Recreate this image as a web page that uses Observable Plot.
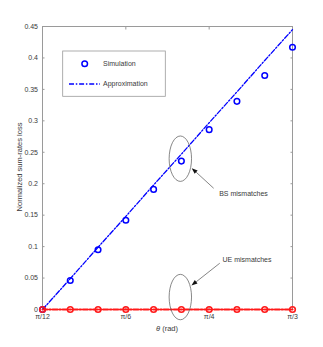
<!DOCTYPE html>
<html><head><meta charset="utf-8">
<script src="https://cdn.jsdelivr.net/npm/d3@7"></script>
<script src="https://cdn.jsdelivr.net/npm/@observablehq/plot@0.6"></script>
<style>
body{margin:0;background:#fff}
svg{font-family:"Liberation Sans",Arial,Helvetica,sans-serif}
</style>
</head><body><div id="chart"></div>
<script>
// theta in degrees (pi/12 .. pi/3)
const thetaDeg = [15, 20, 25, 30, 35, 40, 45, 50, 55, 60];
const simulation = [0, 0.046, 0.095, 0.142, 0.191, 0.236, 0.286, 0.331, 0.372, 0.417];
const approximation = [0, 0.049, 0.099, 0.148, 0.198, 0.247, 0.297, 0.346, 0.396, 0.445];
const ueMismatch = [0, 0, 0, 0, 0, 0, 0, 0, 0, 0];
const xTicks = [15, 30, 45, 60];
const xTickLabels = ["π/12", "π/6", "π/4", "π/3"];
const yTicks = [0, 0.05, 0.1, 0.15, 0.2, 0.25, 0.3, 0.35, 0.4, 0.45];
const yTickLabels = ["0", "0.05", "0.1", "0.15", "0.2", "0.25", "0.3", "0.35", "0.4", "0.45"];
const legendLabels = ["Simulation", "Approximation"];
const annotations = [
  {label: "BS mismatches", cx: 39.9, cy: 0.239, tx: 46.8, ty: 0.184, ax1: 45.9, ay1: 0.192, ax2: 41.95, ay2: 0.224},
  {label: "UE mismatches", cx: 39.9, cy: 0.019, tx: 47.4, ty: 0.0796, ax1: 47.0, ay1: 0.0728, ax2: 41.9, ay2: 0.0373}
];

const simData = thetaDeg.map((t, i) => ({t, v: simulation[i]}));
const approxData = thetaDeg.map((t, i) => ({t, v: approximation[i]}));
const ueData = thetaDeg.map((t, i) => ({t, v: ueMismatch[i]}));

const axisColor = "#9a9a9a";
const textColor = "#3a3a3a";
const blue = "#0000ff";
const red = "#ff1a1a";
const dash = "5,1.8,1.5,1.8";

const plot = Plot.plot({
  width: 323, height: 347,
  marginLeft: 42, marginRight: 31, marginTop: 26, marginBottom: 38,
  style: {fontSize: "7px", color: textColor, background: "#fff"},
  x: {domain: [15, 60]},
  y: {domain: [0, 0.45]},
  marks: [
    Plot.axisX({anchor: "bottom", ticks: xTicks, tickSize: -2.5, tickPadding: 7, stroke: axisColor, fill: textColor,
      tickFormat: d => xTickLabels[xTicks.indexOf(d)], label: null}),
    Plot.axisX({anchor: "top", ticks: xTicks, tickSize: -2.5, stroke: axisColor, tickFormat: () => "", label: null}),
    Plot.axisY({anchor: "left", ticks: yTicks, tickSize: -2.5, tickPadding: 7, stroke: axisColor, fill: textColor,
      tickFormat: d => yTickLabels[yTicks.findIndex(v => Math.abs(v - d) < 1e-9)], label: null}),
    Plot.axisY({anchor: "right", ticks: yTicks, tickSize: -2.5, stroke: axisColor, tickFormat: () => "", label: null}),
    Plot.frame({stroke: axisColor}),
    Plot.line(approxData, {x: "t", y: "v", stroke: blue, strokeWidth: 1.3, strokeDasharray: dash}),
    Plot.dot(simData, {x: "t", y: "v", r: 2.8, stroke: blue, strokeWidth: 1.5, fill: "none"}),
    Plot.line(ueData, {x: "t", y: "v", stroke: red, strokeWidth: 2, strokeDasharray: dash}),
    Plot.dot(ueData, {x: "t", y: "v", r: 2.8, stroke: red, strokeWidth: 1.6, fill: "none"}),
    Plot.text(annotations, {x: "tx", y: "ty", text: "label", textAnchor: "start", fill: textColor, fontSize: 7})
  ]
});

const svg = d3.select(plot);
const sx = plot.scale("x"), sy = plot.scale("y");
const g = svg.append("g");
annotations.forEach(a => {
  g.append("ellipse").attr("cx", sx.apply(a.cx)).attr("cy", sy.apply(a.cy))
    .attr("rx", 11.2).attr("ry", 22.7).attr("fill", "none").attr("stroke", "#555").attr("stroke-width", 0.7);
  const x1 = sx.apply(a.ax1), y1 = sy.apply(a.ay1), x2 = sx.apply(a.ax2), y2 = sy.apply(a.ay2);
  const ang = Math.atan2(y2 - y1, x2 - x1);
  const L = 6, W = 2.2;
  const bx = x2 - L * Math.cos(ang), by = y2 - L * Math.sin(ang);
  g.append("line").attr("x1", x1).attr("y1", y1).attr("x2", bx).attr("y2", by).attr("stroke", "#333").attr("stroke-width", 0.6);
  const pts = [[x2, y2], [bx + W * Math.sin(ang), by - W * Math.cos(ang)], [bx - W * Math.sin(ang), by + W * Math.cos(ang)]];
  g.append("polygon").attr("points", pts.map(p => p.join(",")).join(" ")).attr("fill", "#111");
});

// legend
const lg = svg.append("g").attr("text-anchor", "start");
lg.append("rect").attr("x", 62.7).attr("y", 51).attr("width", 102.6).attr("height", 45.3)
  .attr("fill", "#fff").attr("stroke", axisColor).attr("stroke-width", 0.8);
lg.append("circle").attr("cx", 84.7).attr("cy", 63.7).attr("r", 2.8).attr("fill", "none").attr("stroke", blue).attr("stroke-width", 1.5);
lg.append("line").attr("x1", 69).attr("x2", 100).attr("y1", 84).attr("y2", 84).attr("stroke", blue).attr("stroke-width", 1.3).attr("stroke-dasharray", dash);
lg.append("text").attr("x", 103).attr("y", 64).attr("dy", "0.35em").attr("text-anchor", "start").attr("font-size", 7).attr("fill", textColor).text(legendLabels[0]);
lg.append("text").attr("x", 103).attr("y", 84).attr("dy", "0.35em").attr("text-anchor", "start").attr("font-size", 7).attr("fill", textColor).text(legendLabels[1]);

// axis labels
svg.append("text").attr("transform", "translate(19,167) rotate(-90)").attr("text-anchor", "middle").attr("dy", "0.35em")
  .attr("font-size", 7.5).attr("fill", textColor).text("Normalized sum-rates loss");
const xl = svg.append("text").attr("x", 167).attr("y", 328).attr("text-anchor", "middle").attr("dy", "0.35em")
  .attr("font-size", 7.5).attr("fill", textColor);
xl.append("tspan").attr("font-style", "italic").text("θ");
xl.append("tspan").text(" (rad)");

document.getElementById("chart").appendChild(plot);
</script></body></html>
